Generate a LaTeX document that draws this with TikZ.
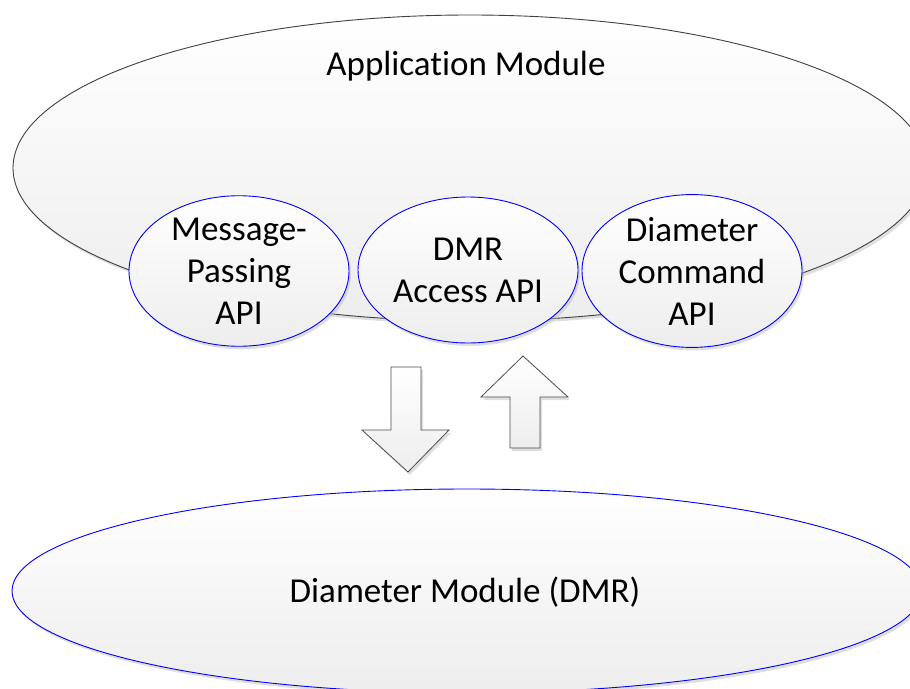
\documentclass[tikz,border=0pt]{standalone}
\usepackage{fontspec}
\setmainfont{Carlito}[Ligatures=NoCommon]
\usetikzlibrary{shapes.geometric,shadows}

\tikzset{
  softfill/.style={top color=white, bottom color=black!7},
  shade/.style={drop shadow={shadow xshift=2pt, shadow yshift=-3pt, fill=black!25, opacity=0.5}},
  module/.style={ellipse, draw=black!75, line width=0.9pt, softfill, shade, inner sep=0pt},
  api/.style={ellipse, draw=blue, line width=0.9pt, softfill, shade, inner sep=0pt,
    minimum width=220pt, minimum height=146pt, align=center,
    font=\fontsize{35}{42}\selectfont},
  dmr/.style={ellipse, draw=blue, line width=0.9pt, softfill, shade, inner sep=0pt},
  flow/.style={draw=black!70, line width=0.8pt, line join=miter, softfill, shade},
  label/.style={font=\fontsize{35}{42}\selectfont}
}

\begin{document}
\begin{tikzpicture}[x=1pt, y=-1pt]
  \useasboundingbox (0,0) rectangle (910,688);
  \clip (0,0) rectangle (910,688);

  % outer application module
  \node[module, minimum width=914pt, minimum height=306pt] (app) at (470,168) {};
  \node[label] (apptext) at (466,66) {Application Module};

  % the three APIs along its lower rim
  \node[api] (msg) at (239,271) {Message-\\Passing\\API};
  \node[api] (acc) at (468,270) {DMR\\Access API};
  \node[api] (cmd) at (692,271) {Diameter\\Command\\API};

  % request / response arrows
  \draw[flow] (391,367) -- (421,367) -- (421,430) -- (449,430) -- (408,472)
              -- (362,430) -- (391,430) -- cycle;
  \draw[flow] (523,356) -- (568,397) -- (540,397) -- (540,448) -- (510,448)
              -- (510,397) -- (481,397) -- cycle;

  % diameter module below
  \node[dmr, minimum width=910pt, minimum height=204pt] (diam) at (467,591) {};
  \node[label] (diamtext) at (465,592) {Diameter Module (DMR)};
\end{tikzpicture}
\end{document}
